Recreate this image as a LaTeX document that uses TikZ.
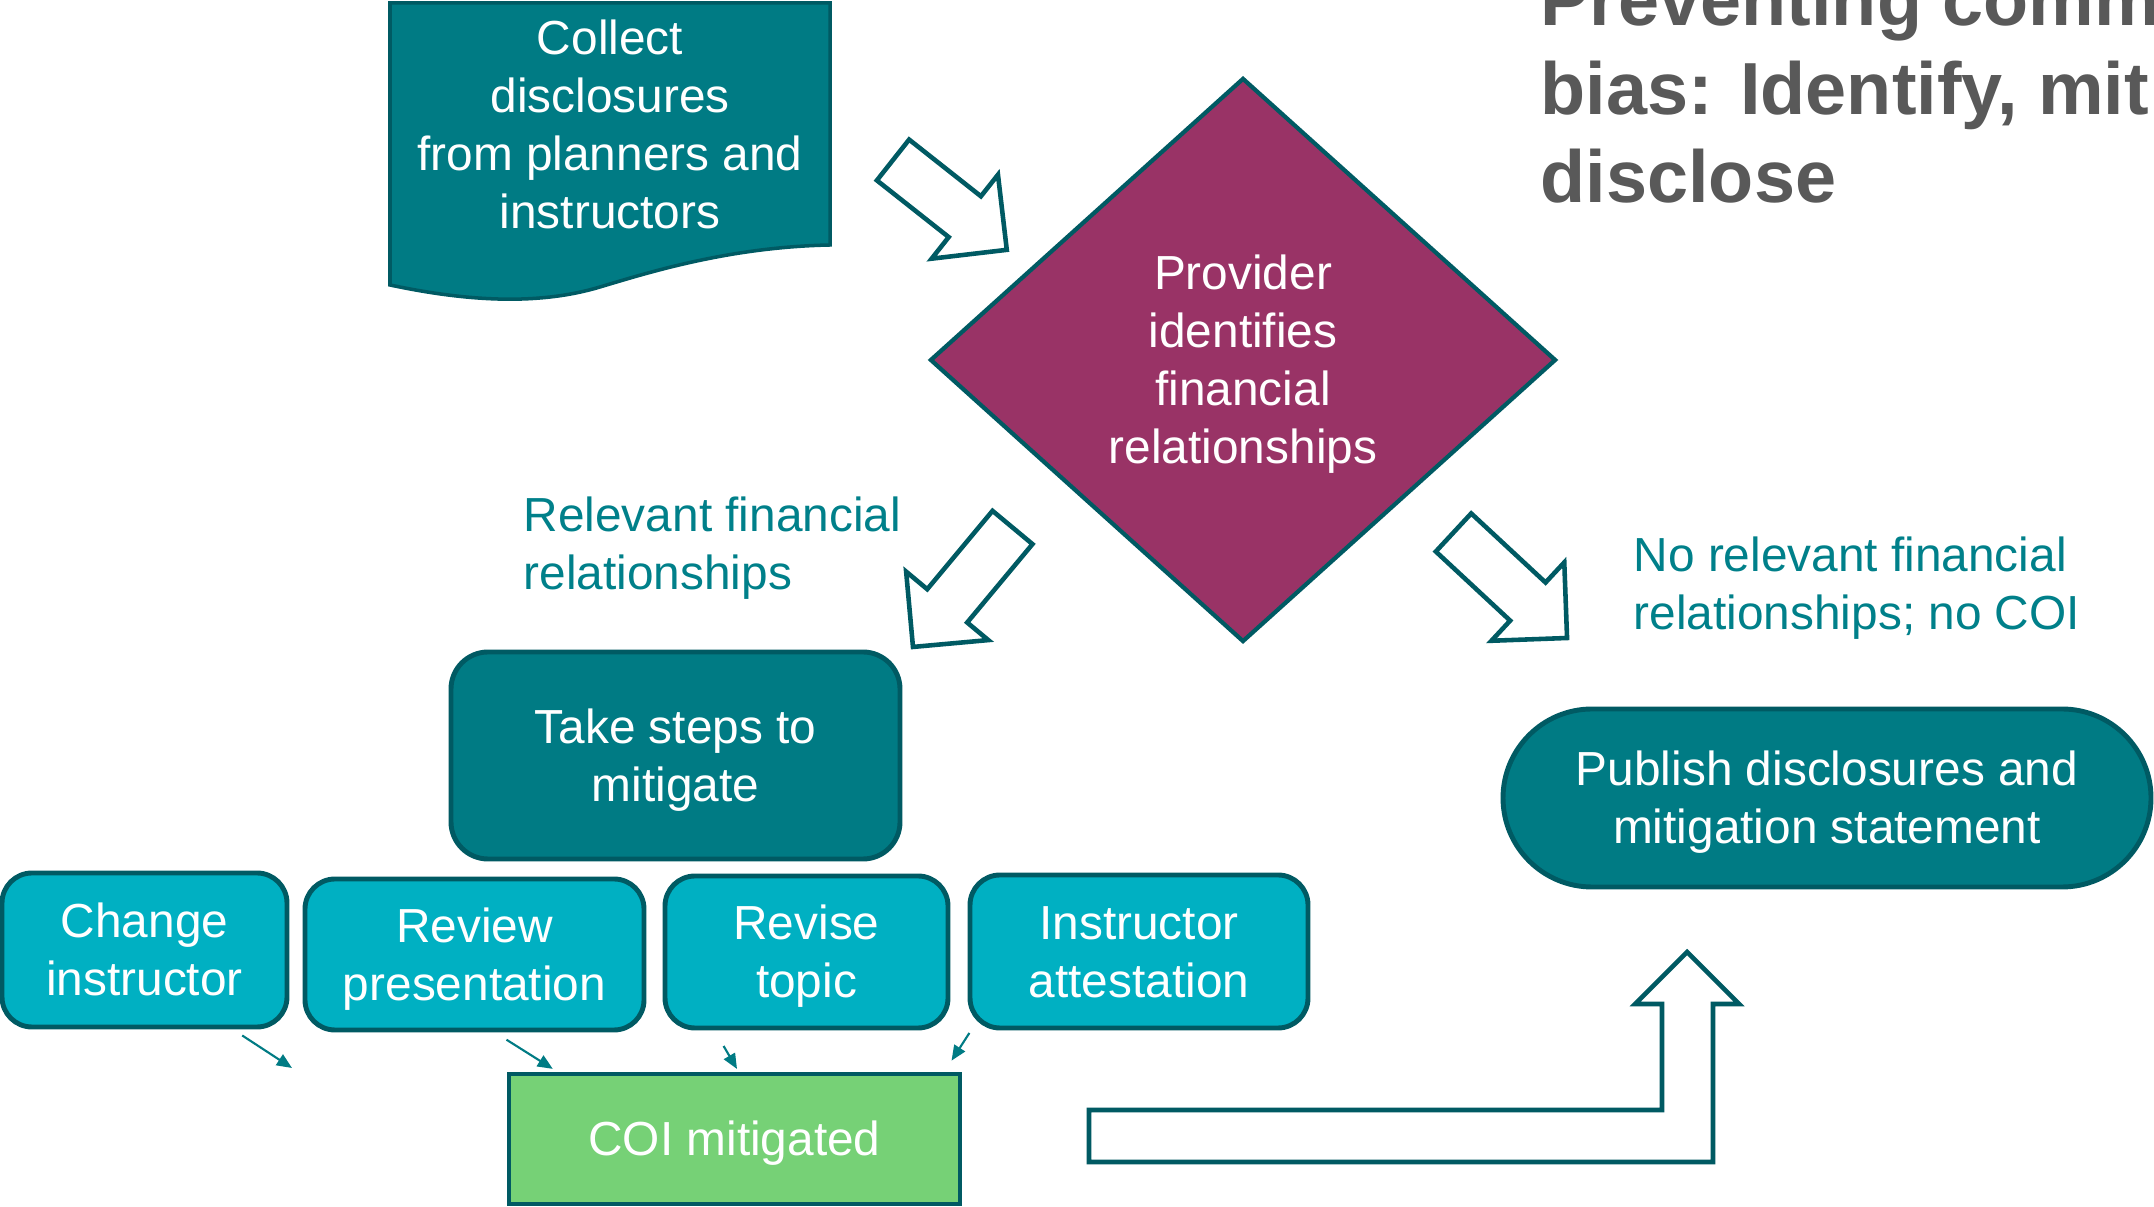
\documentclass[tikz,border=0pt]{standalone}
\usepackage{fontspec}
\setmainfont{Liberation Sans}
\usetikzlibrary{shapes.geometric,arrows.meta}

\definecolor{tealdark}{RGB}{0,90,99}
\definecolor{tealfill}{RGB}{0,123,132}
\definecolor{plum}{RGB}{153,51,102}
\definecolor{cyanfill}{RGB}{0,176,194}
\definecolor{greenfill}{RGB}{118,209,118}
\definecolor{tealtext}{RGB}{0,128,138}
\definecolor{titlegray}{RGB}{89,89,89}

\newcommand{\bodysize}{\fontsize{13.6}{16.5}\selectfont}
% full ascent on the first line, so text sits as in a slide box
\newcommand{\topline}{\rule{0pt}{0.44cm}}

% hollow block arrow: tail point, angle, length
\newcommand{\blockarrow}[3]{%
  \draw[hollow, shift={#1}, rotate=#2] (0,-0.26) -- ({#3-0.535},-0.26) -- ({#3-0.535},-0.535) -- (#3,0)
    -- ({#3-0.535},0.535) -- ({#3-0.535},0.26) -- (0,0.26) -- cycle;}

\tikzset{
  box/.style={draw=tealdark, line width=1.4pt, fill=tealfill, text=white, align=center, font=\bodysize, inner sep=0pt,
              execute at end node={\rule[-0.10cm]{0pt}{0pt}}},
  minibox/.style={box, fill=cyanfill, rounded corners=0.3cm},
  lbl/.style={text=tealtext, align=left, font=\bodysize, inner sep=0pt},
  hollow/.style={draw=tealdark, line width=1.3pt, line join=miter},
  tick/.style={draw=tealfill, line width=0.6pt, -{Triangle[length=4.3pt,width=3.6pt]}}
}

\begin{document}
\begin{tikzpicture}
    % page
    \fill[white] (0,0) rectangle (21.54,12.07);
    \useasboundingbox (0,0) rectangle (21.54,12.07);

    % Title (runs off the right edge), base is the last line
    \node[anchor=base west, align=left, text=titlegray, inner sep=0pt,
          font=\fontsize{21}{25.3}\selectfont\bfseries] (title) at (15.40,10.04)
          {Preventing commercial\\bias: Identify, mitigate, and\\disclose};

    % Document shape with wavy bottom
    \draw[tealdark, line width=1pt, fill=tealfill] (3.90,12.04) -- (8.30,12.04) -- (8.30,9.62)
        .. controls (7.30,9.60) and (6.50,9.35) .. (6.00,9.20)
        .. controls (5.40,9.02) and (4.70,9.05) .. (3.90,9.22) -- cycle;
    \node[box, draw=none, fill=none] (collect) at (6.10,10.82) {\topline Collect\\disclosures\\from planners and\\instructors};

    % Decision
    \node[box, diamond, fill=plum, line width=1.2pt, minimum width=6.26cm, minimum height=5.64cm] (provider)
        at (12.43,8.47) {\topline Provider\\identifies\\financial\\relationships};

    % Branch labels
    \node[lbl, anchor=base west] (relevant) at (5.23,6.17) {Relevant financial\\relationships};
    \node[lbl, anchor=base west] (norelevant) at (16.33,5.77) {No relevant financial\\relationships; no COI};

    % Outcomes
    \node[box, rounded corners=0.37cm, minimum width=4.49cm, minimum height=2.07cm] (steps)
        at (6.755,4.515) {\topline Take steps to\\mitigate};
    \node[box, rounded corners=0.89cm, minimum width=6.48cm, minimum height=1.78cm] (publish)
        at (18.27,4.09) {\topline Publish disclosures and\\mitigation statement};

    % Mitigation options
    \node[minibox, minimum width=2.85cm, minimum height=1.54cm] (change) at (1.445,2.57) {\topline Change\\instructor};
    \node[minibox, minimum width=3.39cm, minimum height=1.51cm] (review) at (4.745,2.525) {\topline Review\\presentation};
    \node[minibox, minimum width=2.83cm, minimum height=1.52cm] (revise) at (8.065,2.55) {\topline Revise\\topic};
    \node[minibox, minimum width=3.38cm, minimum height=1.53cm] (attest) at (11.39,2.555) {\topline Instructor\\attestation};

    \node[box, fill=greenfill, minimum width=4.51cm, minimum height=1.30cm] (coi) at (7.345,0.68) {\topline COI mitigated};

    % Block arrows
    \blockarrow{(8.93,10.47)}{-38.3}{1.45}
    \blockarrow{(10.125,6.795)}{-129.8}{1.555}
    \blockarrow{(14.535,6.745)}{-42.9}{1.55}

    % Bent arrow up to publish
    \draw[hollow] (10.89,0.97) -- (16.62,0.97) -- (16.62,2.03) -- (16.35,2.03) -- (16.87,2.55)
        -- (17.39,2.03) -- (17.13,2.03) -- (17.13,0.45) -- (10.89,0.45) -- cycle;

    % Small arrows into COI mitigated
    \coordinate (loose) at (2.92,1.39);
    \draw[tick, shorten <=0.11cm] ([xshift=0.885cm]change.south) -- (loose);
    \draw[tick, shorten <=0.136cm, shorten >=0.05cm] ([xshift=0.205cm]review.south) -- ([xshift=-1.775cm]coi.north);
    \draw[tick, shorten <=0.18cm, shorten >=0.03cm] ([xshift=-0.92cm]revise.south) -- ([xshift=0.04cm]coi.north);
    \draw[tick, shorten <=0.03cm, shorten >=0.13cm] ([xshift=-1.68cm]attest.south) -- ([xshift=2.10cm]coi.north);
\end{tikzpicture}
\end{document}
